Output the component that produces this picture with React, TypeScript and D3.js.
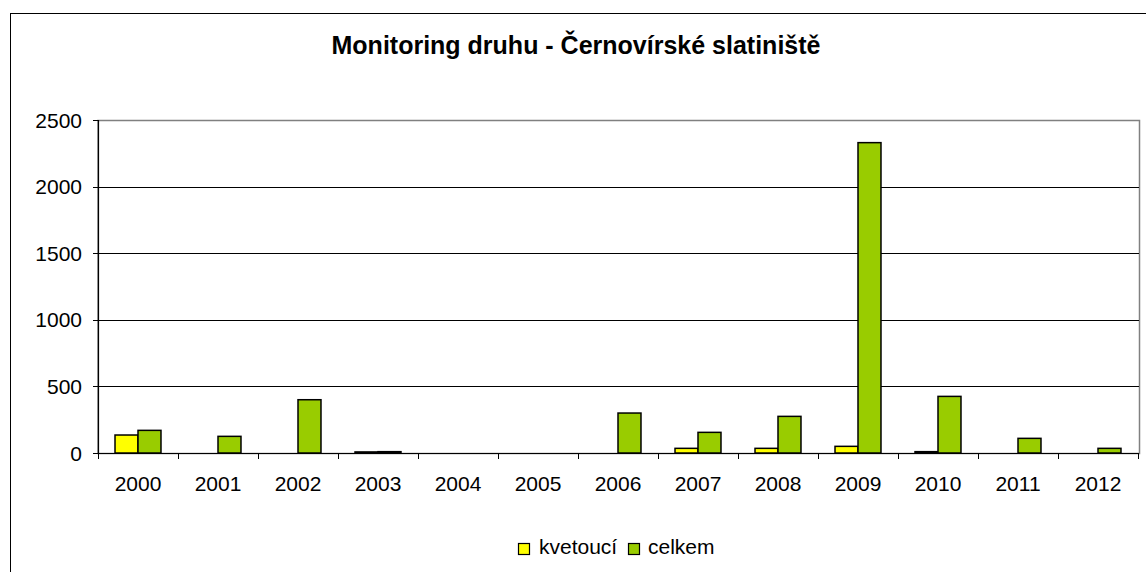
import React from 'react';
import * as d3 from 'd3';

const years = ['2000','2001','2002','2003','2004','2005','2006','2007','2008','2009','2010','2011','2012'];
const kvetouci = [135, 0, 0, 8, 0, 0, 0, 35, 35, 50, 10, 0, 0];
const celkem = [170, 125, 400, 10, 0, 0, 300, 155, 275, 2330, 425, 110, 35];
const yTicks = [0, 500, 1000, 1500, 2000, 2500];
const seriesNames = ['kvetoucí', 'celkem'];
const seriesColors = ['#ffff00', '#99cc00'];

const W = 1146;
const H = 572;
const plot = {left: 98, right: 1138, top: 120, bottom: 453};
const font = '"Liberation Sans", Arial, sans-serif';

export default function App(){
    const x = d3.scaleBand().domain(years).range([plot.left, plot.right]).paddingInner(0).paddingOuter(0);
    const inner = d3.scaleBand().domain(seriesNames).range([0, x.bandwidth()]).paddingOuter(0.74).paddingInner(0);
    const y = d3.scaleLinear().domain([0, 2500]).range([plot.bottom, plot.top]);
    const series = [kvetouci, celkem];

    return (
        <svg width={W} height={H} style={{position:'absolute', left:0, top:0, background:'#fff'}} fontFamily={font}>
            {/* outer chart frame */}
            <rect x={10.5} y={13.5} width={W+20} height={H+20} fill="#fff" stroke="#000" strokeWidth={1}/>
            <text x={576} y={54} textAnchor="middle" fontSize={25} fontWeight="bold">Monitoring druhu - Černovírské slatiniště</text>

            {/* plot area border */}
            <rect x={plot.left} y={plot.top + 0.5} width={plot.right - plot.left + 1.5} height={plot.bottom - plot.top} fill="none" stroke="#808080" strokeWidth={1.5}/>

            {yTicks.filter(t => t > 0 && t < 2500).map(t => (
                <line key={'g'+t} x1={plot.left} x2={plot.right + 1} y1={Math.round(y(t)) + 0.5} y2={Math.round(y(t)) + 0.5} stroke="#000" strokeWidth={1}/>
            ))}

            {yTicks.map(t => (
                <g key={'t'+t}>
                    <line x1={plot.left - 5} x2={plot.left} y1={Math.round(y(t)) + 0.5} y2={Math.round(y(t)) + 0.5} stroke="#000"/>
                    <text x={plot.left - 16} y={y(t) + 7.5} textAnchor="end" fontSize={21}>{t}</text>
                </g>
            ))}

            {years.map((yr, i) => (
                <g key={yr}>
                    {series.map((vals, s) => {
                        const v = vals[i];
                        if(v <= 0) return null;
                        const bx = (x(yr) as number) + (inner(seriesNames[s]) as number);
                        return (
                            <rect key={s} x={bx} y={y(v)} width={inner.bandwidth()} height={plot.bottom - y(v)}
                                fill={seriesColors[s]} stroke="#000" strokeWidth={1.5}/>
                        );
                    })}
                </g>
            ))}

            {/* axes */}
            <line x1={plot.left + 0.5} x2={plot.left + 0.5} y1={plot.top} y2={plot.bottom} stroke="#000" strokeWidth={1.2}/>
            <line x1={plot.left} x2={plot.right + 1} y1={plot.bottom + 0.5} y2={plot.bottom + 0.5} stroke="#000" strokeWidth={1.2}/>
            {years.concat(['end']).map((yr, i) => {
                const tx = plot.left + i * x.step();
                return <line key={'xt'+i} x1={tx + 0.5} x2={tx + 0.5} y1={plot.bottom} y2={plot.bottom + 6} stroke="#000"/>;
            })}
            {years.map(yr => (
                <text key={'xl'+yr} x={(x(yr) as number) + x.bandwidth() / 2} y={491} textAnchor="middle" fontSize={21}>{yr}</text>
            ))}

            {/* legend */}
            <g>
                <rect x={518.5} y={543.5} width={11} height={11} fill={seriesColors[0]} stroke="#000" strokeWidth={1.2}/>
                <text x={539} y={554} fontSize={21}>{seriesNames[0]}</text>
                <rect x={628.5} y={543.5} width={11} height={11} fill={seriesColors[1]} stroke="#000" strokeWidth={1.2}/>
                <text x={648} y={554} fontSize={21}>{seriesNames[1]}</text>
            </g>
        </svg>
    );
}
